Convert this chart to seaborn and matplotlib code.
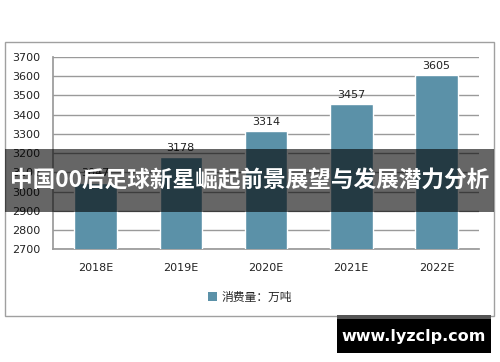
import matplotlib
matplotlib.use("Agg")
import matplotlib.pyplot as plt
from matplotlib.patches import Rectangle, Patch
import seaborn as sns
import pandas as pd

categories = ["2018E", "2019E", "2020E", "2021E", "2022E"]
values = [3047, 3178, 3314, 3457, 3605]
yticks = [2700, 2800, 2900, 3000, 3100, 3200, 3300, 3400, 3500, 3600, 3700]
legend_label = "消费量：万吨"
title = "中国00后足球新星崛起前景展望与发展潜力分析"
watermark = "www.lyzclp.com"

sns.set_theme(style="white")
plt.rcParams['font.family'] = ['DejaVu Sans', 'Noto Sans CJK SC']

W, H = 500, 362
fig = plt.figure(figsize=(W / 100, H / 100), dpi=100)
fig.patch.set_facecolor("white")

def fx(px):
    return px / W

def fy(py):
    return 1 - py / H

# outer frame
fig.patches.append(Rectangle((fx(5), fy(316)), fx(489), 274 / H, transform=fig.transFigure,
                             fill=False, edgecolor="#A0A0A0", lw=1, zorder=0))

ax = fig.add_axes([fx(53), fy(249.3), fx(479 - 53), (249.3 - 57) / H])
df = pd.DataFrame({"cat": categories, "val": values})
bar_color = "#5B91A8"
sns.barplot(data=df, x="cat", y="val", color=bar_color, saturation=1, width=0.5, ax=ax, zorder=3)
ax.set_ylim(2700, 3700)
ax.set_yticks(yticks)
ax.set_xlabel("")
ax.set_ylabel("")
ax.yaxis.grid(True, color="#9A9A9A", lw=1)
ax.set_axisbelow(True)
for s in ["top", "right"]:
    ax.spines[s].set_visible(False)
ax.spines["left"].set_color("#9A9A9A")
ax.spines["bottom"].set_color("#9A9A9A")
ax.tick_params(axis="y", labelsize=8, pad=9, length=0, colors="#222222")
ax.tick_params(axis="x", labelsize=8, pad=10, length=0, colors="#222222")
ax.bar_label(ax.containers[0], padding=3, fontsize=8, color="#222222")

handle = Patch(facecolor=bar_color, edgecolor="none")
fig.legend([handle], [legend_label], loc="center", bbox_to_anchor=(0.5, fy(297)),
           frameon=False, handlelength=0.7, handleheight=0.7, handletextpad=0.4,
           prop={"family": ["Noto Sans CJK SC"], "size": 8.5})

# banner
fig.patches.append(Rectangle((fx(5), fy(212)), fx(489), 63 / H, transform=fig.transFigure,
                             facecolor="black", alpha=0.6, edgecolor="none", zorder=10))
fig.text(0.5, fy(181), title, ha="center", va="center", color="white", fontsize=16.3,
         fontweight="bold", family=["Noto Sans CJK SC"], zorder=11)

# watermark
fig.patches.append(Rectangle((fx(337), fy(319)), fx(154), 4 / H, transform=fig.transFigure,
                             facecolor="#555555", edgecolor="none", zorder=10))
fig.patches.append(Rectangle((fx(337), fy(353)), fx(154), 34 / H, transform=fig.transFigure,
                             facecolor="black", edgecolor="none", zorder=10))
fig.text(fx(414), fy(336), watermark, ha="center", va="center", color="white", fontsize=11.5,
         fontweight="bold", zorder=11)

fig.savefig("out.png", dpi=100)
